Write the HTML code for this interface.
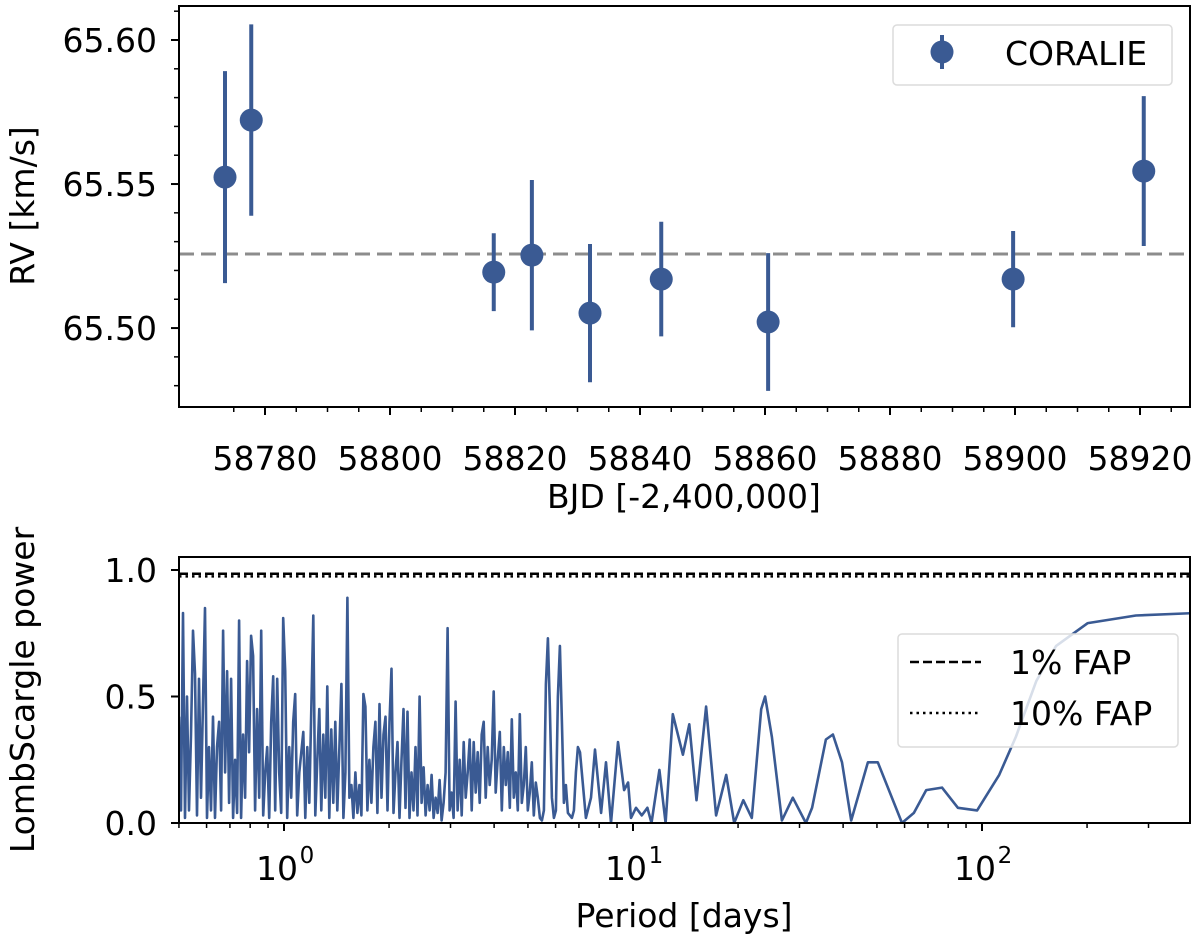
<!DOCTYPE html>
<html><head><meta charset="utf-8"><style>
html,body{margin:0;padding:0;background:#fff;}
svg{display:block;font-family:"DejaVu Sans","Liberation Sans",sans-serif;}
</style></head><body>
<svg id="fig" width="1200" height="942" viewBox="0 0 1200 942" xmlns="http://www.w3.org/2000/svg"></svg>
<script>
// ---- top panel data ----
const bjd = [58773.6, 58777.8, 58816.6, 58822.7, 58832.0, 58843.4, 58860.5, 58899.7, 58920.6];
const rv = [65.5524, 65.5722, 65.5194, 65.5253, 65.5052, 65.5170, 65.5021, 65.5170, 65.5545];
const rvErr = [0.0368, 0.0332, 0.0135, 0.0261, 0.0240, 0.0199, 0.0239, 0.0167, 0.0260];
const rvMean = 65.5257;
const xTicksTop = [58780, 58800, 58820, 58840, 58860, 58880, 58900, 58920];
const yTicksTop = [65.50, 65.55, 65.60];
// ---- bottom panel data ----
const denseLogPStart = -0.301, denseLogPEnd = 0.848;
const densePower = [0.42,0.05,0.83,0.02,0.50,0.05,0.35,0.76,0.59,0.03,0.57,0.10,0.48,0.85,0.02,0.30,0.05,0.42,0.02,0.30,
0.40,0.05,0.76,0.20,0.60,0.08,0.57,0.02,0.25,0.04,0.80,0.02,0.35,0.10,0.64,0.28,0.74,0.66,0.05,0.45,
0.10,0.76,0.03,0.20,0.30,0.02,0.40,0.58,0.05,0.57,0.20,0.04,0.81,0.60,0.02,0.30,0.10,0.40,0.51,0.03,
0.20,0.28,0.36,0.02,0.30,0.08,0.45,0.82,0.03,0.25,0.45,0.05,0.35,0.10,0.54,0.02,0.37,0.08,0.40,0.05,
0.30,0.55,0.02,0.20,0.89,0.10,0.15,0.02,0.20,0.04,0.15,0.03,0.51,0.46,0.05,0.25,0.08,0.30,0.40,0.04,
0.47,0.10,0.35,0.42,0.05,0.40,0.61,0.04,0.20,0.32,0.02,0.25,0.45,0.06,0.44,0.02,0.20,0.05,0.30,0.03,
0.50,0.08,0.22,0.03,0.15,0.05,0.19,0.02,0.10,0.04,0.17,0.01,0.08,0.20,0.77,0.05,0.12,0.02,0.48,0.05,
0.25,0.03,0.32,0.10,0.20,0.33,0.05,0.32,0.12,0.28,0.08,0.35,0.40,0.10,0.30,0.15,0.25,0.52,0.12,0.25,
0.36,0.05,0.30,0.15,0.28,0.06,0.41,0.10,0.20,0.05,0.43,0.08,0.15,0.30,0.05,0.12,0.24,0.03,0.16,0.10,
0.02,0.01,0.05,0.55,0.73,0.45,0.10,0.02,0.05,0.50,0.70,0.40,0.08,0.15,0.04,0.03,0.02,0.05,0.20,0.30,0.28];
const sparsePeriod = [7.33,7.58,7.78,8.10,8.37,8.65,9.06,9.43,9.68,9.87,10.2,10.6,11.0,11.3,11.9,12.4,13.0,13.9,14.5,15.2,16.2,17.3,18.5,19.5,20.7,21.9,23.3,23.9,25.0,26.7,28.7,31.3,32.6,35.7,37.4,39.7,42.2,47.1,50.3,59.0,63.8,69.2,76.8,85.3,96.8,112,125,143,163,201,276,410];
const sparsePower = [0.02,0.10,0.29,0.04,0.24,0.00,0.32,0.13,0.16,0.02,0.06,0.03,0.06,0.00,0.21,0.00,0.43,0.27,0.39,0.09,0.46,0.03,0.19,0.00,0.09,0.02,0.45,0.50,0.34,0.01,0.10,0.00,0.06,0.33,0.35,0.24,0.01,0.24,0.24,0.00,0.04,0.13,0.14,0.06,0.05,0.19,0.34,0.56,0.70,0.79,0.82,0.83];
const fap1 = 0.985, fap10 = 0.975;
const yTicksBot = [0.0, 0.5, 1.0];
const xTicksBotExp = [0, 1, 2];

const NS = "http://www.w3.org/2000/svg";
const svg = document.getElementById('fig');
function el(tag, attrs, parent) {
  const e = document.createElementNS(NS, tag);
  for (const k in attrs) e.setAttribute(k, attrs[k]);
  (parent || svg).appendChild(e);
  return e;
}
const BLUE = "#3a5a93";
const FS = 33;

// ---- top axes ----
const T = {l:179, r:1190, t:6, b:407, y0:65.4726, y1:65.6118};
T.x1 = 58780 + (1190-265)/6.25;
T.x0 = 58780 - (265-179)/6.25;
const tx = v => T.l + (v - T.x0) / (T.x1 - T.x0) * (T.r - T.l);
const ty = v => T.b - (v - T.y0) / (T.y1 - T.y0) * (T.b - T.t);

const gTop = el('g', {});



const mean = el('line', {x1:T.l, x2:T.r, y1:ty(rvMean), y2:ty(rvMean), stroke:"#8c8c8c", "stroke-width":3, "stroke-dasharray":"15 7"}, gTop);



for (let i = 0; i < bjd.length; i++) {
  const g = el('g', {}, gTop);
  
  
  el('line', {x1:tx(bjd[i]), x2:tx(bjd[i]), y1:ty(rv[i]-rvErr[i]), y2:ty(rv[i]+rvErr[i]), stroke:BLUE, "stroke-width":4}, g);
  el('circle', {cx:tx(bjd[i]), cy:ty(rv[i]), r:11.5, fill:BLUE}, g);
}
const fT = el('rect', {x:T.l, y:T.t, width:T.r-T.l, height:T.b-T.t, fill:"none", stroke:"#000", "stroke-width":2}, gTop);


for (let v = 65.48; v <= 65.611; v += 0.01) {
  const y = ty(v);
  const major = yTicksTop.some(m => Math.abs(m - v) < 1e-6);
  el('line', {x1:T.l, x2:T.l-(major?8:5), y1:y, y2:y, stroke:"#000", "stroke-width":major?2:1.5}, gTop);
}
for (const v of yTicksTop) {
  const t = el('text', {x:157, y:ty(v)+12, "text-anchor":"end", "font-size":FS, fill:"#000"}, gTop);
  t.textContent = v.toFixed(2);
  
  
}
for (let v = 58775; v <= T.x1; v += 5) {
  const x = tx(v);
  const major = xTicksTop.includes(v);
  el('line', {x1:x, x2:x, y1:T.b, y2:T.b+(major?8:5), stroke:"#000", "stroke-width":major?2:1.5}, gTop);
}
for (const v of xTicksTop) {
  const t = el('text', {x:tx(v), y:470, "text-anchor":"middle", "font-size":FS, fill:"#000"}, gTop);
  t.textContent = String(v);
  
  
}
const xtT = el('text', {x:684, y:508, "text-anchor":"middle", "font-size":FS}, gTop);
xtT.textContent = "BJD [-2,400,000]";


const ytT = el('text', {x:0, y:0, "text-anchor":"middle", "font-size":FS, transform:"translate(34,206) rotate(-90)"}, gTop);
ytT.textContent = "RV [km/s]";


const lg = el('g', {}, gTop);


el('rect', {x:893, y:25, width:279, height:60, rx:4, fill:"#fff", stroke:"#dcdcdc", "stroke-width":1.5}, lg);
el('line', {x1:942, x2:942, y1:35, y2:69, stroke:BLUE, "stroke-width":4}, lg);
el('circle', {cx:942, cy:52, r:11.5, fill:BLUE}, lg);
const lt = el('text', {x:1005, y:65, "font-size":FS}, lg);
lt.textContent = "CORALIE";



// ---- bottom axes ----
const B = {l:179, r:1190, t:557, b:823};
const DEC = 349, X0 = 284;
const bx = p => X0 + Math.log10(p) * DEC;
const by = v => B.b - v * 253;
const gBot = el('g', {});


const clip = el('clipPath', {id:"cb"}, gBot);
el('rect', {x:B.l, y:B.t, width:B.r-B.l, height:B.b-B.t}, clip);

let pts = [];
const n = densePower.length;
for (let i = 0; i < n; i++) {
  const lp = denseLogPStart + (denseLogPEnd - denseLogPStart) * i / (n - 1);
  pts.push([bx(Math.pow(10, lp)), by(densePower[i])]);
}
for (let i = 0; i < sparsePeriod.length; i++) pts.push([bx(sparsePeriod[i]), by(sparsePower[i])]);
const pl = el('polyline', {points: pts.map(p => p[0].toFixed(1)+","+p[1].toFixed(1)).join(" "), fill:"none", stroke:BLUE, "stroke-width":2.6, "stroke-linejoin":"round", "clip-path":"url(#cb)"}, gBot);



const f1 = el('line', {x1:B.l, x2:B.r, y1:by(fap1), y2:by(fap1), stroke:"#000", "stroke-width":2.5, "stroke-dasharray":"9 4"}, gBot);


const f10 = el('line', {x1:B.l, x2:B.r, y1:by(fap10), y2:by(fap10), stroke:"#000", "stroke-width":2.5, "stroke-dasharray":"2.5 4"}, gBot);



const fB = el('rect', {x:B.l, y:B.t, width:B.r-B.l, height:B.b-B.t, fill:"none", stroke:"#000", "stroke-width":2}, gBot);



for (const v of yTicksBot) {
  el('line', {x1:B.l, x2:B.l-8, y1:by(v), y2:by(v), stroke:"#000", "stroke-width":2}, gBot);
  const t = el('text', {x:157, y:by(v)+12, "text-anchor":"end", "font-size":FS}, gBot);
  t.textContent = v.toFixed(1);
  
  
}
for (let e = -1; e <= 2; e++) {
  for (let m = 1; m <= 9; m++) {
    const p = m * Math.pow(10, e);
    const x = bx(p);
    if (x < B.l - 0.5 || x > B.r + 0.5) continue;
    el('line', {x1:x, x2:x, y1:B.b, y2:B.b+(m===1?8:5), stroke:"#000", "stroke-width":m===1?2:1.5}, gBot);
  }
}
for (const e of xTicksBotExp) {
  const t = el('text', {x:bx(Math.pow(10, e))-7, y:880, "text-anchor":"middle", "font-size":FS}, gBot);
  t.textContent = "10";
  
  
  const s = el('text', {x:bx(Math.pow(10, e))+23, y:863, "text-anchor":"middle", "font-size":23}, gBot);
  s.textContent = String(e);
}
const xtB = el('text', {x:684, y:927, "text-anchor":"middle", "font-size":FS}, gBot);
xtB.textContent = "Period [days]";


const ytB = el('text', {x:0, y:0, "text-anchor":"middle", "font-size":FS, transform:"translate(34,690) rotate(-90)"}, gBot);
ytB.textContent = "LombScargle power";



const lg2 = el('g', {}, gBot);


el('rect', {x:898, y:634, width:280, height:113, rx:4, fill:"#fff", "fill-opacity":0.8, stroke:"#dcdcdc", "stroke-width":1.5}, lg2);
el('line', {x1:910, x2:981, y1:662, y2:662, stroke:"#000", "stroke-width":2.5, "stroke-dasharray":"9 4"}, lg2);
el('line', {x1:910, x2:981, y1:713, y2:713, stroke:"#000", "stroke-width":2.5, "stroke-dasharray":"2.5 4"}, lg2);
const l1 = el('text', {x:1010, y:674, "font-size":FS}, lg2);
l1.textContent = "1% FAP";


const l2 = el('text', {x:1010, y:725, "font-size":FS}, lg2);
l2.textContent = "10% FAP";


</script>
</body></html>
